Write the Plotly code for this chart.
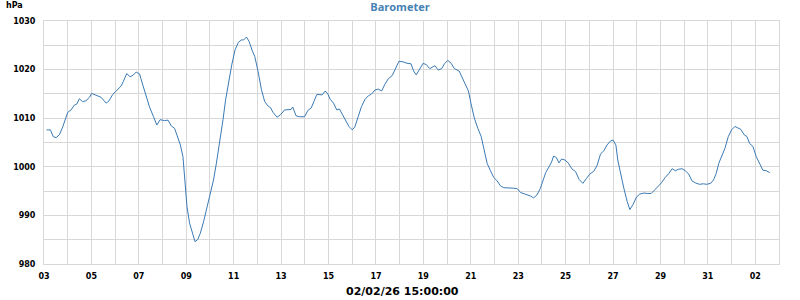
import datetime as dt
import plotly.graph_objects as go

# ---- data ----
start_time = "2026-01-03 00:00"
end_time = "2026-02-03 00:00"
stamp_text = "02/02/26 15:00:00"
title_text = "Barometer"
unit_text = "hPa"

days_since_start = [
    0.11, 0.27, 0.39, 0.51, 0.65, 0.79, 1.00, 1.14, 1.28, 1.38, 1.49, 1.63, 1.77, 1.92,
    2.01, 2.20, 2.41, 2.62, 2.73, 2.90, 3.07, 3.25, 3.35, 3.49, 3.63, 3.77, 3.89, 4.03,
    4.17, 4.31, 4.45, 4.62, 4.76, 4.90, 5.08, 5.23, 5.37, 5.51, 5.61, 5.75, 5.86, 5.94,
    6.03, 6.14, 6.25, 6.37, 6.48, 6.59, 6.73, 6.87, 7.01, 7.15, 7.27, 7.41, 7.55, 7.66,
    7.77, 7.92, 8.06, 8.20, 8.32, 8.42, 8.54, 8.65, 8.79, 8.89, 9.03, 9.17, 9.31, 9.45,
    9.55, 9.66, 9.83, 9.97, 10.15, 10.34,
    10.42, 10.49, 10.63, 10.77, 10.99, 11.13, 11.27, 11.38, 11.51, 11.73, 11.86, 11.97,
    12.07, 12.21, 12.35, 12.46, 12.58, 12.72, 12.86, 13.00, 13.11, 13.25, 13.39, 13.54,
    13.68, 13.82, 13.96, 14.10, 14.24, 14.38, 14.52, 14.69, 14.83, 14.97, 15.14, 15.31,
    15.48, 15.59, 15.70, 15.85, 15.99, 16.13, 16.27, 16.41, 16.49, 16.63, 16.77, 16.89,
    17.03, 17.17, 17.31, 17.51, 17.65, 17.79, 17.90, 18.01, 18.15, 18.30, 18.44, 18.55,
    18.69, 18.83, 18.97, 19.11, 19.25, 19.39, 19.65, 19.79, 19.96, 20.10, 20.28, 20.46,
    20.51, 20.65, 20.79, 20.93, 21.04, 21.16, 21.30, 21.41, 21.49, 21.61, 21.72, 21.83,
    21.97, 22.11, 22.26, 22.42, 22.57, 22.73, 22.88, 23.02, 23.19, 23.33, 23.47, 23.61,
    23.75, 23.89, 24.00, 24.12, 24.20, 24.31, 24.46, 24.60, 24.71, 24.85, 24.99, 25.13,
    25.30, 25.47, 25.61, 25.75, 25.89, 26.04, 26.20, 26.35, 26.49, 26.63, 26.77, 26.91,
    27.05, 27.19, 27.33, 27.47, 27.64, 27.81, 27.95, 28.12, 28.24, 28.35, 28.46, 28.60,
    28.72, 28.86, 29.00, 29.14, 29.28, 29.39, 29.53, 29.65, 29.76, 29.90, 30.04, 30.18,
    30.32, 30.46, 30.61,
]

pressure_hpa = [
    1007.6, 1007.6, 1006.2, 1006.0, 1006.6, 1008.2, 1011.2, 1011.7, 1012.7, 1012.9, 1014.0, 1013.4, 1013.6, 1014.3,
    1015.1, 1014.7, 1014.3, 1013.1, 1013.5, 1014.9, 1015.8, 1016.6, 1017.6, 1019.2, 1018.5, 1018.9, 1019.5, 1019.1,
    1016.8, 1014.5, 1012.3, 1010.3, 1008.6, 1009.7, 1009.5, 1009.6, 1008.4, 1007.9, 1006.6, 1004.5, 1002.1, 997.3,
    991.8, 988.4, 986.3, 984.6, 985.0, 986.3, 988.7, 991.4, 994.2, 997.3, 1000.7, 1004.9, 1009.7, 1013.8,
    1017.2, 1021.0, 1024.1, 1025.6, 1026.1, 1026.1, 1026.7, 1025.8, 1023.8, 1022.7, 1019.6, 1015.9, 1013.4, 1012.5,
    1012.2, 1011.2, 1010.2, 1010.7, 1011.7, 1011.7,
    1011.8, 1012.3, 1010.5, 1010.3, 1010.3, 1011.6, 1012.1, 1013.4, 1014.9, 1014.8, 1015.6, 1015.0,
    1013.9, 1013.1, 1011.7, 1011.9, 1010.9, 1009.7, 1008.3, 1007.6, 1008.2, 1010.3, 1012.4, 1013.9,
    1014.6, 1015.0, 1015.8, 1016.0, 1015.6, 1017.0, 1018.1, 1018.8, 1020.2, 1021.7, 1021.6, 1021.3,
    1021.2, 1019.7, 1018.9, 1020.2, 1021.3, 1021.0, 1020.2, 1020.6, 1020.8, 1019.9, 1020.2, 1021.2,
    1021.9, 1021.3, 1020.2, 1019.7, 1018.1, 1016.7, 1015.6, 1013.0, 1010.0, 1007.9, 1006.2, 1003.8,
    1000.7, 999.2, 997.8, 997.1, 996.1, 995.7, 995.7, 995.6, 995.5, 994.7, 994.4, 994.2,
    994.0, 993.6, 994.2, 995.5, 997.3, 998.8, 1000.0, 1001.0, 1002.2, 1001.9, 1000.8, 1001.6,
    1001.4, 1000.8, 999.6, 999.0, 997.4, 996.6, 997.6, 998.5, 999.1, 1000.3, 1002.6, 1003.3,
    1004.5, 1005.3, 1005.5, 1004.5, 1001.4, 998.6, 995.5, 992.8, 991.2, 992.3, 993.8, 994.4,
    994.6, 994.5, 994.5, 995.2, 995.9, 996.7, 997.8, 998.6, 999.6, 999.2, 999.5, 999.6,
    999.2, 998.5, 997.1, 996.7, 996.4, 996.5, 996.4, 996.6, 997.3, 998.6, 1000.7, 1002.4,
    1003.8, 1006.2, 1007.6, 1008.3, 1008.0, 1007.7, 1006.6, 1006.2, 1004.8, 1004.2, 1002.1, 1000.7,
    999.3, 999.2, 998.8,
]

y_range = [980, 1030]

# ---- build figure ----
t0 = dt.datetime.strptime(start_time, "%Y-%m-%d %H:%M")
times = [t0 + dt.timedelta(days=d) for d in days_since_start]

DAY_MS = 86400000
grid_col = "#d8d8d8"
tick_font = dict(family="DejaVu Sans", size=8, color="#000000", weight="bold")

fig = go.Figure()
fig.add_trace(go.Scatter(
    x=times, y=pressure_hpa, mode="lines",
    line=dict(color="#3a7ab4", width=1),
    showlegend=False, hoverinfo="skip",
))

fig.update_layout(
    width=800, height=300, autosize=False,
    margin=dict(l=44, r=21, t=21, b=36, pad=0),
    paper_bgcolor="white", plot_bgcolor="white",
    title=dict(text=title_text, x=0.5, xref="container", xanchor="center",
               y=1 - 7.5 / 300, yref="container", yanchor="middle",
               font=dict(family="Open Sans", size=11, color="#4682b4", weight="bold")),
    showlegend=False,
)

fig.update_xaxes(
    type="date", range=[start_time, end_time],
    tick0=start_time, dtick=2 * DAY_MS, tickformat="%d",
    showgrid=True, gridcolor=grid_col, gridwidth=1,
    minor=dict(dtick=DAY_MS, tick0=start_time, showgrid=True, gridcolor=grid_col, gridwidth=1),
    showline=True, linecolor=grid_col, mirror=True, linewidth=1,
    zeroline=False, ticks="", tickfont=tick_font, ticklabelstandoff=4,
)
fig.update_yaxes(
    range=y_range, dtick=10, tick0=980,
    showgrid=True, gridcolor=grid_col, gridwidth=1,
    minor=dict(dtick=5, showgrid=True, gridcolor=grid_col, gridwidth=1),
    showline=True, linecolor=grid_col, mirror=True, linewidth=1,
    zeroline=False, ticks="", tickfont=tick_font, ticklabelstandoff=6,
)

fig.add_annotation(
    text=unit_text, xref="paper", yref="paper",
    x=(14 - 44) / 735, y=1 + (21 - 6) / 243, xanchor="center", yanchor="middle",
    showarrow=False, font=dict(family="DejaVu Sans", size=8, color="#000000", weight="bold"),
)
fig.add_annotation(
    text=stamp_text, xref="paper", yref="paper",
    x=(402 - 44) / 735, y=-(291 - 264) / 243, xanchor="center", yanchor="middle",
    showarrow=False, font=dict(family="DejaVu Sans", size=11, color="#000000", weight="bold"),
)

fig.write_html("out.html")
